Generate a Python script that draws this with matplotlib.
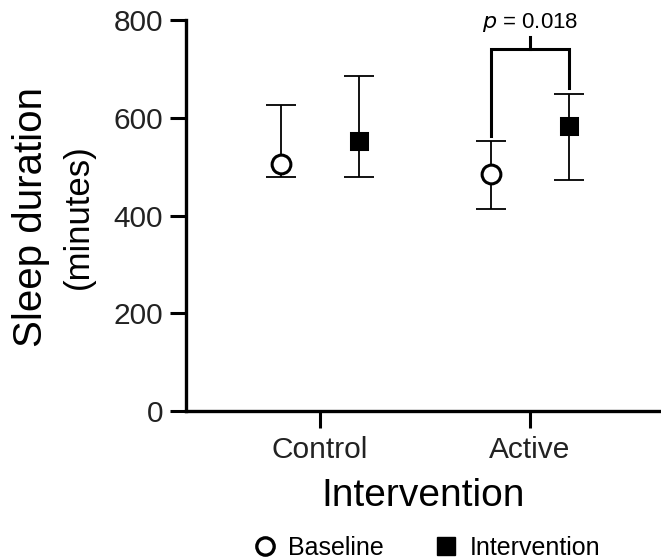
import numpy as np
import matplotlib.pyplot as plt
from matplotlib.lines import Line2D

plt.rcParams['font.family'] = ['Liberation Sans', 'DejaVu Sans']

# group means and asymmetric error ranges (minutes)
groups = ['Control', 'Active']
baseline_mean = [505, 485]
baseline_low = [480, 413]
baseline_high = [627, 552]
interv_mean = [553, 583]
interv_low = [480, 473]
interv_high = [685, 648]
p_label = 'p'
p_value = '0.018'

x = np.arange(len(groups))
off = 0.186

fig = plt.figure(figsize=(6.61, 5.6), dpi=100)
ax = fig.add_axes([0.2814, 0.266, 0.7186, 0.698])

def draw(xpos, mean, low, high, marker, face, ms):
    mean = np.array(mean)
    yerr = [mean - np.array(low), np.array(high) - mean]
    ax.errorbar(xpos, mean, yerr=yerr, fmt='none', ecolor='black',
                elinewidth=1.3, capsize=11, capthick=1.3, zorder=2)
    ax.plot(xpos, mean, linestyle='none', marker=marker, markersize=ms,
            markerfacecolor=face, markeredgecolor='black', markeredgewidth=2.2,
            zorder=3)

draw(x - off, baseline_mean, baseline_low, baseline_high, 'o', 'white', 13.5)
draw(x + off, interv_mean, interv_low, interv_high, 's', 'black', 11.5)

# significance bracket for the active group
xl, xr = x[1] - off, x[1] + off
ax.plot([xl, xl, xr, xr], [563, 741, 741, 661], color='black', lw=2.2,
        solid_joinstyle='miter', clip_on=False)
ax.plot([x[1], x[1]], [741, 765], color='black', lw=2.2, clip_on=False)
ax.text(x[1], 784, f'$\\it{{{p_label}}}$ = {p_value}', ha='center', va='baseline',
        fontsize=16, clip_on=False)

ax.set_xlim(-0.638, 1.624)
ax.set_ylim(0, 800)
ax.set_yticks([0, 200, 400, 600, 800])
ax.set_xticks(x)
ax.set_xticklabels(groups)
ax.tick_params(axis='both', labelsize=21.5, width=2.2, color='black',
               labelcolor='#222222')
ax.tick_params(axis='y', length=11.5, pad=5)
ax.tick_params(axis='x', length=12, pad=6)
for s in ['top', 'right']:
    ax.spines[s].set_visible(False)
for s in ['left', 'bottom']:
    ax.spines[s].set_linewidth(2.4)

ax.set_xlabel('Intervention', fontsize=28, labelpad=10)
fig.text(0.047, 0.6125, 'Sleep duration', rotation=90, fontsize=29,
         ha='center', va='center')
fig.text(0.118, 0.6125, '(minutes)', rotation=90, fontsize=25,
         ha='center', va='center')

handles = [
    Line2D([], [], linestyle='none', marker='o', markersize=12.5,
           markerfacecolor='white', markeredgecolor='black', markeredgewidth=2.4),
    Line2D([], [], linestyle='none', marker='s', markersize=12.5,
           markerfacecolor='black', markeredgecolor='black'),
]
fig.legend(handles, ['Baseline', 'Intervention'], loc='center',
           bbox_to_anchor=(0.645, 0.021), ncol=2, frameon=False, fontsize=18,
           handletextpad=0.42, columnspacing=2.0, handlelength=1.0,
           borderpad=0, borderaxespad=0)

fig.savefig('out.png', dpi=100)
